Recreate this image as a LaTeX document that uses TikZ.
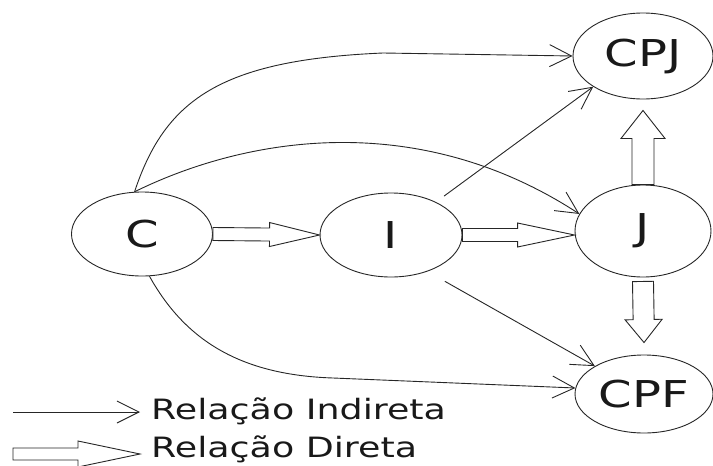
\documentclass[tikz,border=0pt]{standalone}
\usepackage{fontspec}
\setmainfont[FakeStretch=1.3]{DejaVu Sans}
\usetikzlibrary{calc,arrows.meta,shapes.geometric}

\tikzset{
  ell/.style={ellipse, draw=black!85, line width=0.9pt, inner sep=0pt,
    text=black!90, font=\fontsize{37}{40}\selectfont},
  ind/.style={draw=black!85, line width=0.9pt,
    -{Straight Barb[length=22pt,width=22pt,line width=0.9pt]}},
  % block arrow: shaft half-width, head half-width, head length (pt)
  blk/.style n args={3}{draw=black!85, fill=white, line width=0.9pt, line join=miter,
    to path={let \p1=(\tikztostart), \p2=(\tikztotarget),
      \n1={atan2(\y2-\y1,\x2-\x1)}, \n2={veclen(\x2-\x1,\y2-\y1)} in
      ($(\p1)+(\n1+90:#1pt)$)
      -- ($(\p1)+(\n1:{(\n2-#3)*1pt})+(\n1+90:#1pt)$)
      -- ($(\p1)+(\n1:{(\n2-#3)*1pt})+(\n1+90:#2pt)$)
      -- (\p2)
      -- ($(\p1)+(\n1:{(\n2-#3)*1pt})+(\n1-90:#2pt)$)
      -- ($(\p1)+(\n1:{(\n2-#3)*1pt})+(\n1-90:#1pt)$)
      -- ($(\p1)+(\n1-90:#1pt)$) -- cycle}},
  lab/.style={inner sep=0pt, text=black!90, font=\fontsize{28}{32}\selectfont}
}

\begin{document}
\begin{tikzpicture}[x=1pt, y=-1pt]
  \useasboundingbox (0,0) rectangle (713,466);

  % entities
  \node[ell, minimum width=141pt, minimum height=84pt] (C)   at (142,234) {C};
  \node[ell, minimum width=142pt, minimum height=84pt] (I)   at (391,235) {I};
  \node[ell, minimum width=136pt, minimum height=92pt] (J)   at (643,231) {J};
  \node[ell, minimum width=140pt, minimum height=86pt] (CPJ) at (643,56)  {CPJ};
  \node[ell, minimum width=138pt, minimum height=78pt] (CPF) at (644,394) {CPF};

  % direct relations
  \draw[blk={6.5}{12}{50}] (C.east) to (I.west);
  \draw[blk={6.5}{12}{57}] (I.east) to (I.east -| J.west);
  \draw[blk={11}{22}{28}] (J.north) to ($(CPJ.south)+(0,11)$);
  \draw[blk={10.5}{18.5}{23}] ($(J.south)+(0,4)$) to ($(CPF.north)+(0,-12)$);

  % indirect relations
  \draw[ind] (C.100) .. controls (165,100) and (220,60) .. (383,53) -- (CPJ.west);
  \draw[ind] (C.100) .. controls (250,135) and (420,110) .. (J.165);
  \draw[ind, shorten <=10pt] (I) -- (CPJ.south west);
  \draw[ind, shorten <=20pt] (I.-45) -- (CPF.north west);
  \draw[ind] (C.-80) .. controls (185,340) and (240,375) .. (333,378) -- (CPF.175);

  % legend
  \coordinate (ia) at (13,412);
  \coordinate (ib) at (140,412);
  \draw[ind] (ia) -- (ib);
  \coordinate (da) at (13,454);
  \coordinate (db) at (140,454);
  \draw[blk={6}{13}{62}] (da) to (db);
  \node[lab, anchor=base west] (tInd) at (151,419) {Relação Indireta};
  \node[lab, anchor=base west] (tDir) at (151,457) {Relação Direta};
\end{tikzpicture}
\end{document}
